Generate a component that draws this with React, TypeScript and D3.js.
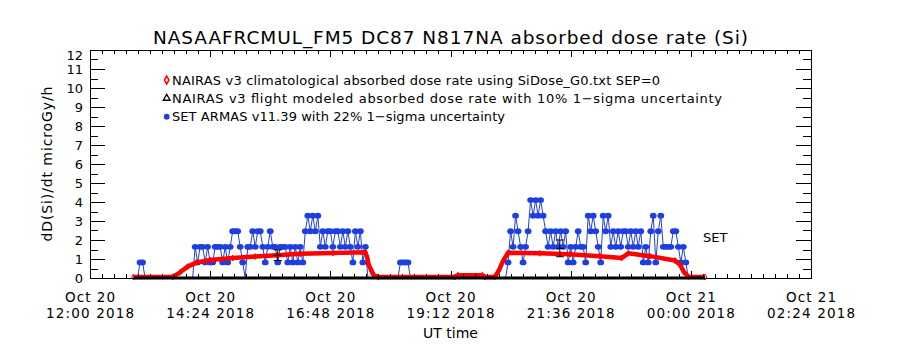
import React from "react";
import * as d3 from "d3";

const TITLE = "NASAAFRCMUL_FM5 DC87 N817NA absorbed dose rate (Si)";
const X_LABEL = "UT time";
const Y_LABEL = "dD(Si)/dt microGy/h";
const SERIES_TAG = "SET";
const LEGEND_TEXT = [
  "NAIRAS v3 climatological absorbed dose rate using SiDose_G0.txt SEP=0",
  "NAIRAS v3 flight modeled absorbed dose rate with 10% 1\u2212sigma uncertainty",
  "SET ARMAS v11.39 with 22% 1\u2212sigma uncertainty",
];

const X_DOMAIN = ["2018-10-20T12:00Z", "2018-10-21T02:24Z"];
const X_TICKS = [
  "2018-10-20T12:00Z",
  "2018-10-20T14:24Z",
  "2018-10-20T16:48Z",
  "2018-10-20T19:12Z",
  "2018-10-20T21:36Z",
  "2018-10-21T00:00Z",
  "2018-10-21T02:24Z",
];
const Y_DOMAIN = [0, 12];
const Y_TICKS = [0, 1, 2, 3, 4, 5, 6, 7, 8, 9, 10, 11, 12];

// NAIRAS v3 climatological (red diamonds)
const CLIM_TIMES = [
  "20T12:52", "20T13:39", "20T13:48", "20T13:57", "20T14:08", "20T14:24", "20T14:51",
  "20T15:18", "20T15:44", "20T16:12", "20T16:51", "20T17:30", "20T17:32", "20T17:34",
  "20T17:37", "20T17:40", "20T17:45", "20T19:17", "20T19:21", "20T19:50", "20T19:53",
  "20T20:05", "20T20:10", "20T20:15", "20T20:21", "20T20:59", "20T21:35", "20T22:11",
  "20T22:37", "20T22:45", "20T23:11", "20T23:41", "20T23:47", "20T23:52", "20T23:57",
  "21T00:17",
];
const CLIM_VALUES = [
  0.05, 0.06, 0.3, 0.6, 0.82, 0.95, 1.05,
  1.13, 1.2, 1.27, 1.32, 1.35, 1.1, 0.7,
  0.4, 0.15, 0.05, 0.05, 0.15, 0.15, 0.05,
  0.05, 0.4, 0.9, 1.33, 1.3, 1.25, 1.15,
  1.05, 1.3, 1.15, 0.92, 0.7, 0.3, 0.07,
  0.05,
];

// NAIRAS v3 flight modeled (black triangles)
const FLIGHT_TIMES = ["20T12:52", "21T00:17"];
const FLIGHT_VALUES = [0, 0];
const FLIGHT_ERR_TIMES = ["20T15:45", "20T21:23"];
const FLIGHT_ERR_VALUES = [1.2, 1.56];
const FLIGHT_ERR_SIGMA = [0.28, 0.44];

// SET ARMAS (blue), samples every 3 minutes from each run start
const SET_STEP_MIN = 3;
const SET_RUN_STARTS = ["20T12:57", "20T14:03", "20T18:09", "20T20:18"];
const SET_RUN_A = [0, 0.82, 0.82, 0];
const SET_RUN_B = [
  0, 1.64, 0.82, 1.64, 1.64, 0.82, 1.64, 0.82, 0.82, 1.64,
  1.64, 1.64, 0.82, 1.64, 0.82, 1.64, 2.46, 2.46, 2.46, 1.64,
  0.82, 0, 1.64, 1.64, 2.46, 1.64, 2.46, 2.46, 1.64, 0.82,
  1.64, 2.46, 1.64, 1.64, 0.82, 1.64, 1.64, 1.64, 0.82, 1.64,
  0.82, 1.64, 0.82, 1.64, 0.82, 2.46, 3.28, 2.46, 3.28, 2.46,
  3.28, 1.64, 2.46, 1.64, 2.46, 2.46, 1.64, 2.46, 2.46, 1.64,
  2.46, 1.64, 2.46, 1.64, 0.82, 2.46, 1.64, 2.46, 0.82, 1.64,
  0,
];
const SET_RUN_C = [0, 0.82, 0.82, 0.82, 0.82, 0];
const SET_RUN_D = [
  0, 0.82, 2.46, 1.64, 3.28, 2.46, 1.64, 0.82, 1.64, 2.46,
  4.1, 3.28, 4.1, 3.28, 4.1, 3.28, 2.46, 1.64, 2.46, 1.64,
  2.46, 1.64, 2.46, 1.64, 2.46, 0.82, 1.64, 0.82, 1.64, 2.46,
  1.64, 1.64, 0.82, 3.28, 2.46, 3.28, 2.46, 1.64, 0.82, 3.28,
  2.46, 3.28, 1.64, 2.46, 1.64, 2.46, 1.64, 2.46, 2.46, 1.64,
  2.46, 1.64, 2.46, 1.64, 2.46, 0.82, 1.64, 0.82, 2.46, 3.28,
  0.82, 2.46, 3.28, 1.64, 1.64, 1.64, 1.64, 2.46, 2.46, 1.64,
  0.82, 1.64, 0.82, 0,
];
const SET_RUNS = [SET_RUN_A, SET_RUN_B, SET_RUN_C, SET_RUN_D];

const RED = "#ff0000";
const BLUE = "#1e3fe0";
const FONT = "DejaVu Sans, sans-serif";

const t = (s: string) => new Date(`2018-10-${s}Z`);

export default function App() {
  const left = 90, right = 811, top = 50, bottom = 278;
  const x = d3.scaleUtc().domain(X_DOMAIN.map((s) => new Date(s))).range([left, right]);
  const y = d3.scaleLinear().domain(Y_DOMAIN).range([bottom, top]);

  const t0 = x.domain()[0].getTime();
  const t1 = x.domain()[1].getTime();
  const minorStep = 14.4 * 60000;
  const xMinor = d3.range(t0, t1 + 1, minorStep).map((v) => new Date(v));
  const yMinor = d3.range(0, 12.01, 0.5);

  const line = d3
    .line<[Date, number]>()
    .x((d) => x(d[0]))
    .y((d) => y(d[1]));

  const climPts: [Date, number][] = CLIM_TIMES.map((s, i) => [t(s), CLIM_VALUES[i]]);
  const flightPts: [Date, number][] = FLIGHT_TIMES.map((s, i) => [t(s), FLIGHT_VALUES[i]]);
  const setRuns: [Date, number][][] = SET_RUNS.map((vals, r) => {
    const st = t(SET_RUN_STARTS[r]).getTime();
    return vals.map((v, i) => [new Date(st + i * SET_STEP_MIN * 60000), v] as [Date, number]);
  });

  const diamond = d3.symbol().type(d3.symbolDiamond).size(10)()!;
  const legDiamond = d3.symbol().type(d3.symbolDiamond).size(18)()!;
  const legTri = d3.symbol().type(d3.symbolTriangle).size(20)()!;
  const legDot = d3.symbol().type(d3.symbolCircle).size(26)()!;

  const fmt1 = d3.utcFormat("%b %d");
  const fmt2 = d3.utcFormat("%H:%M %Y");

  const legendRows = [80, 98.3, 116.7];
  const legendWidths = [488, 550, 333];

  return (
    <svg
      width={900}
      height={350}
      style={{ position: "absolute", left: 0, top: 0, background: "#fff" }}
      fontFamily={FONT}
    >
      <rect x={0} y={0} width={900} height={350} fill="#fff" />
      <text x={450.5} y={44} textAnchor="middle" fontSize={18.5} textLength={595} lengthAdjust="spacing">
        {TITLE}
      </text>

      {/* SET ARMAS blue */}
      <g>
        {setRuns.map((run, r) => (
          <path key={r} d={line(run)!} fill="none" stroke={BLUE} strokeWidth={1} />
        ))}
        {setRuns.map((run, r) =>
          run
            .filter((d) => d[1] > 0)
            .map((d, i) => (
              <ellipse key={`${r}-${i}`} cx={x(d[0])} cy={y(d[1])} rx={3.4} ry={2.9} fill={BLUE} />
            ))
        )}
      </g>

      {/* NAIRAS climatological red */}
      <path d={line(climPts)!} fill="none" stroke={RED} strokeWidth={4.5} strokeLinejoin="round" />
      {climPts.map((d, i) => (
        <path
          key={i}
          d={diamond}
          transform={`translate(${x(d[0])},${y(d[1])})`}
          fill="none"
          stroke={RED}
          strokeWidth={1}
        />
      ))}

      {/* NAIRAS flight modeled baseline (drawn over the red near zero) */}
      <path d={line(flightPts)!} fill="none" stroke="#000" strokeWidth={3} />

      {/* flight modeled error bars */}
      {FLIGHT_ERR_TIMES.map((s, i) => {
        const cx = x(t(s));
        const v = FLIGHT_ERR_VALUES[i];
        const e = FLIGHT_ERR_SIGMA[i];
        return (
          <g key={i} stroke="#000" strokeWidth={1}>
            <line x1={cx} x2={cx} y1={y(v - e)} y2={y(v + e)} />
            <line x1={cx - 4} x2={cx + 4} y1={y(v - e)} y2={y(v - e)} />
            <line x1={cx - 4} x2={cx + 4} y1={y(v + e)} y2={y(v + e)} />
            <line x1={cx - 4} x2={cx + 4} y1={y(v)} y2={y(v)} />
          </g>
        );
      })}

      <text x={703} y={242} fontSize={13}>
        {SERIES_TAG}
      </text>

      {/* frame */}
      <rect x={left} y={top} width={right - left} height={bottom - top} fill="none" stroke="#000" strokeWidth={1} shapeRendering="crispEdges" />

      {/* ticks */}
      <g stroke="#000" strokeWidth={1} shapeRendering="crispEdges">
        {xMinor.map((d, i) => {
          const px = Math.round(x(d)) + 0.5;
          const major = i % 10 === 0;
          const len = major ? 7 : 4;
          return (
            <g key={i}>
              <line x1={px} x2={px} y1={bottom} y2={bottom - len} />
              <line x1={px} x2={px} y1={top} y2={top + len} />
            </g>
          );
        })}
        {yMinor.map((v, i) => {
          const py = Math.round(y(v)) + 0.5;
          const major = i % 2 === 0;
          const len = major ? 15 : 8;
          return (
            <g key={i}>
              <line x1={left} x2={left + len} y1={py} y2={py} />
              <line x1={right} x2={right - len} y1={py} y2={py} />
            </g>
          );
        })}
      </g>

      {/* x tick labels */}
      {X_TICKS.map((s) => {
        const d = new Date(s);
        const px = x(d);
        return (
          <g key={s} fontSize={13.5} textAnchor="middle">
            <text x={px} y={301.5} textLength={50} lengthAdjust="spacing">{fmt1(d)}</text>
            <text x={px} y={317.5} textLength={88} lengthAdjust="spacing">{fmt2(d)}</text>
          </g>
        );
      })}
      <text x={450.5} y={338} fontSize={14} textAnchor="middle">
        {X_LABEL}
      </text>

      {/* y tick labels */}
      {Y_TICKS.map((v) => (
        <text key={v} x={83} y={Math.max(y(v), top + 5) + 4.8} fontSize={13} textAnchor="end">
          {v}
        </text>
      ))}
      <text transform={`translate(47,164) rotate(-90)`} fontSize={14} textAnchor="middle" dy="0.35em" textLength={155} lengthAdjust="spacing">
        {Y_LABEL}
      </text>

      {/* legend */}
      <path d={legDiamond} transform={`translate(166.7,${legendRows[0]})`} fill="#fff" stroke={RED} strokeWidth={1.5} />
      <path d={legTri} transform={`translate(166.7,${legendRows[1]})`} fill="#fff" stroke="#000" strokeWidth={1.3} />
      <path d={legDot} transform={`translate(166.7,${legendRows[2]})`} fill={BLUE} />
      {LEGEND_TEXT.map((s, i) => (
        <text
          key={i}
          x={172}
          y={legendRows[i] + 4.5}
          fontSize={13}
          textLength={legendWidths[i]}
          lengthAdjust="spacing"
        >
          {s}
        </text>
      ))}
    </svg>
  );
}
